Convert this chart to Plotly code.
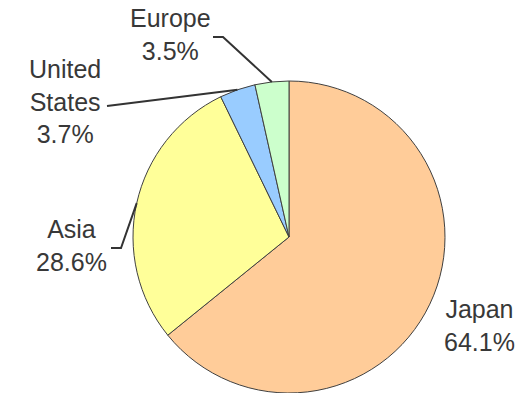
import math
import plotly.graph_objects as go

# Share of sales by region (%)
regions = ["Japan", "Asia", "United States", "Europe"]
shares = [64.1, 28.6, 3.7, 3.5]
colors = ["#FFCC99", "#FFFF99", "#99CCFF", "#CCFFCC"]
label_lines = ["Japan", "Asia", "United<br>States", "Europe"]

W, H = 530, 393
# pie placement in pixels
cx, cy, r = 289, 237, 156


def px(x):
    return x / W


def py(y):
    return 1 - y / H


fig = go.Figure(
    go.Pie(
        labels=regions,
        values=shares,
        sort=False,
        direction="clockwise",
        rotation=0,
        textinfo="none",
        hoverinfo="label+percent",
        marker=dict(colors=colors, line=dict(color="#404040", width=1)),
        domain=dict(x=[px(cx - r), px(cx + r)], y=[py(cy + r), py(cy - r)]),
        showlegend=False,
    )
)

# mid-angle of each slice (degrees clockwise from 12 o'clock)
total = sum(shares)
mids = []
acc = 0.0
for v in shares:
    mids.append(360 * (acc + v / 2) / total)
    acc += v


def edge_point(i):
    a = math.radians(mids[i])
    return cx + r * math.sin(a), cy - r * math.cos(a)


# label text centers (pixels) and leader line paths after the slice edge
label_pos = {
    "Japan": (479, 325),
    "Asia": (71, 245),
    "United States": (65, 101),
    "Europe": (170, 35),
}
leader_paths = {
    "Asia": [(121, 248), (111, 248)],
    "United States": [(107, 106)],
    "Europe": [(223, 37), (213, 37)],
}

font = dict(family="Liberation Sans, Arial, sans-serif", size=25, color="#383838")

for i, name in enumerate(regions):
    x, y = label_pos[name]
    fig.add_annotation(
        x=px(x), y=py(y), xref="paper", yref="paper",
        text=f"{label_lines[i]}<br>{shares[i]:.1f}%",
        showarrow=False, font=font, align="center",
        xanchor="center", yanchor="middle",
    )
    if name in leader_paths:
        pts = [edge_point(i)] + leader_paths[name]
        path = "M " + " L ".join(f"{px(a)},{py(b)}" for a, b in pts)
        fig.add_shape(
            type="path", path=path, xref="paper", yref="paper",
            line=dict(color="#333333", width=2),
        )

fig.update_layout(
    width=W, height=H,
    margin=dict(l=0, r=0, t=0, b=0),
    paper_bgcolor="white", plot_bgcolor="white",
)

fig.write_html("out.html")
